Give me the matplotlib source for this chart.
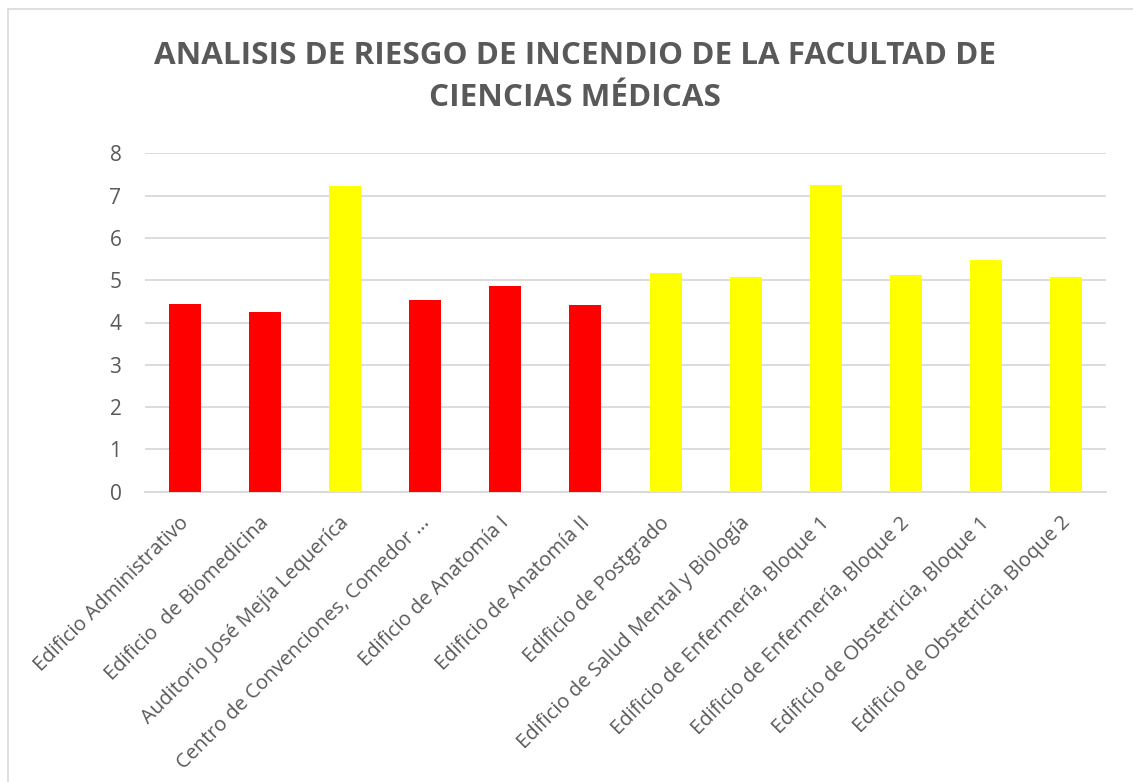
import matplotlib
matplotlib.use("Agg")
import matplotlib.pyplot as plt
import matplotlib.transforms as mtransforms
from matplotlib.patches import Rectangle

edificios = [
    "Edificio Administrativo",
    "Edificio  de Biomedicina",
    "Auditorio José Mejía Lequeríca",
    "Centro de Convenciones, Comedor ...",
    "Edificio de Anatomía I",
    "Edificio de Anatomía II",
    "Edificio de Postgrado",
    "Edificio de Salud Mental y Biología",
    "Edificio de Enfermería, Bloque 1",
    "Edificio de Enfermería, Bloque 2",
    "Edificio de Obstetricia, Bloque 1",
    "Edificio de Obstetricia, Bloque 2",
]
riesgo = [4.44, 4.25, 7.23, 4.53, 4.86, 4.41, 5.17, 5.08, 7.25, 5.12, 5.48, 5.08]
nivel = ["alto", "alto", "medio", "alto", "alto", "alto",
         "medio", "medio", "medio", "medio", "medio", "medio"]
COLORES = {"alto": "#FF0000", "medio": "#FFFF00"}
GRIS = "#595959"

plt.rcParams["font.family"] = ["Open Sans", "DejaVu Sans"]

fig = plt.figure(figsize=(11.33, 7.82), dpi=100)
W, H = 1133, 782
# chart-area border (only left/top visible in the crop)
fig.patches.append(Rectangle((8 / W, -0.05), 1.2, 1 - 9 / H + 0.05, transform=fig.transFigure,
                             facecolor="none", edgecolor="#D9D9D9", linewidth=1.2))

ax = fig.add_axes([145 / W, 1 - 491.7 / H, (1106 - 145) / W, (491.7 - 153.3) / H])
x = range(len(edificios))
ax.bar(x, riesgo, width=0.4, color=[COLORES[n] for n in nivel], zorder=3)
ax.set_xlim(-0.5, len(edificios) - 0.5)
ax.set_ylim(0, 8)
ax.set_yticks(range(0, 9))
ax.grid(axis="y", color="#D9D9D9", linewidth=1.3, zorder=0)
for s in ["top", "right", "left"]:
    ax.spines[s].set_visible(False)
ax.spines["bottom"].set_color("#D9D9D9")
ax.spines["bottom"].set_linewidth(1.3)
ax.tick_params(axis="both", length=0, colors=GRIS)
ax.tick_params(axis="y", pad=17, labelsize=15)
ax.set_xticks(list(x))
ax.set_xticklabels(edificios, rotation=45, ha="right", va="top",
                   rotation_mode="anchor", fontsize=14.5, color=GRIS)
ax.tick_params(axis="x", pad=8)
shift = mtransforms.ScaledTranslation(-6 / 100, -10 / 100, fig.dpi_scale_trans)
for lab in ax.get_xticklabels():
    lab.set_transform(lab.get_transform() + shift)

fig.text(575 / W, 1 - 77 / H, "ANALISIS DE RIESGO DE INCENDIO DE LA FACULTAD DE\nCIENCIAS MÉDICAS",
         ha="center", va="center", fontsize=22.6, fontweight="bold", color=GRIS, linespacing=1.5)

fig.savefig("out.png", dpi=100)
